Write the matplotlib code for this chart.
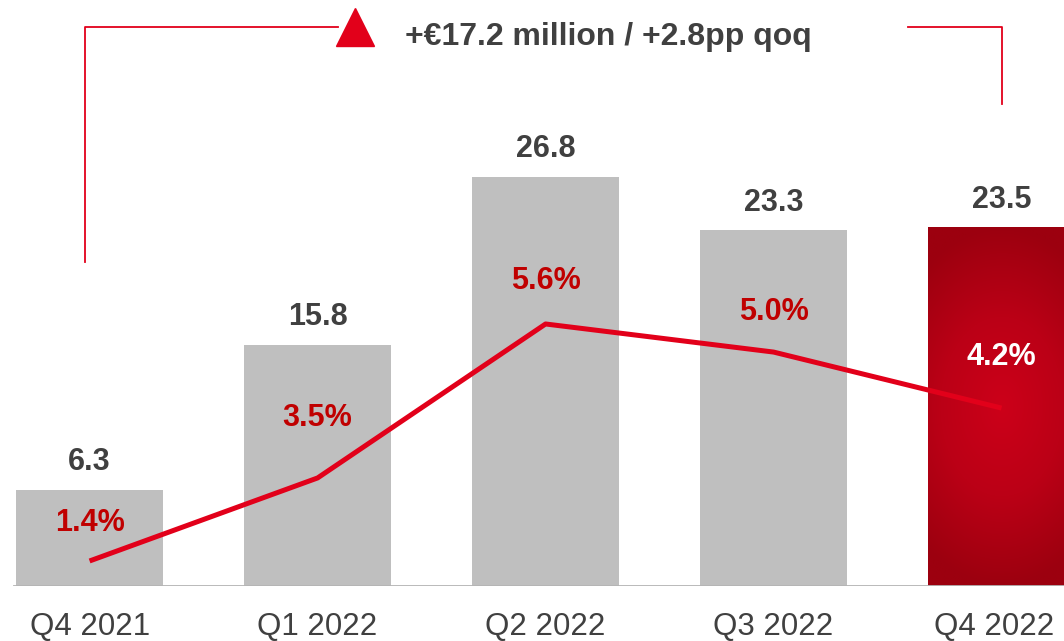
"""Quarterly result bars with margin line, recreated with matplotlib."""
import numpy as np
import matplotlib
matplotlib.use("Agg")
import matplotlib.pyplot as plt
from matplotlib.colors import LinearSegmentedColormap
from matplotlib.transforms import ScaledTranslation

# --- data -------------------------------------------------------------
quarters = ["Q4 2021", "Q1 2022", "Q2 2022", "Q3 2022", "Q4 2022"]
result_m = [6.3, 15.8, 26.8, 23.3, 23.5]          # EUR million
margin_pct = [1.4, 3.5, 5.6, 5.0, 4.2]            # labels of the line
margin_line = [1.64, 7.08, 17.17, 15.33, 11.66]   # line height as drawn (chart units)
headline = "+€17.2 million / +2.8pp qoq"

# --- style ------------------------------------------------------------
GREY_BAR = "#bfbfbf"
TEXT = "#404040"
RED_LINE = "#e2001a"
RED_LABEL = "#c00000"
FONT = "Liberation Sans"
plt.rcParams["font.family"] = [FONT, "DejaVu Sans"]

fig = plt.figure(figsize=(10.64, 6.41), dpi=100)
ax = fig.add_axes([0, 55 / 641, 1, 586 / 641])

x = np.arange(len(quarters))
width = 0.645
ax.set_xlim(-0.393, 4.274)
ax.set_ylim(0, 38.4)

colors = [GREY_BAR] * (len(quarters) - 1) + ["none"]
bars = ax.bar(x, result_m, width=width, color=colors, zorder=2)

# gradient fill for the latest quarter
last = bars[-1]
gx, gy = np.meshgrid(np.linspace(-1, 1, 200), np.linspace(-1, 1, 400))
dist = np.clip(np.sqrt((gx * 0.6) ** 2 + gy ** 2), 0, 1)
cmap = LinearSegmentedColormap.from_list("redgrad", ["#cc0019", "#bb0016", "#9c000f"])
img = ax.imshow(dist, cmap=cmap, aspect="auto", zorder=2,
                extent=[last.get_x(), last.get_x() + last.get_width(), 0, last.get_height()])
img.set_clip_path(last)

# baseline
ax.axhline(0, xmin=14 / 1064, xmax=1, color="#b4b4b4", lw=1.3, zorder=3)

# margin line
ax.plot(x, margin_line, color=RED_LINE, lw=3.6, solid_capstyle="butt", zorder=4)

# value labels above bars
for xi, v in zip(x, result_m):
    ax.annotate(f"{v:.1f}", (xi, v), xytext=(0, 20), textcoords="offset points",
                ha="center", va="center", fontsize=22, fontweight="bold", color=TEXT)

# margin labels above the line
label_offsets = [27, 43, 31, 29, 37]   # points above line
for i, (xi, p, lv) in enumerate(zip(x, margin_pct, margin_line)):
    col = "white" if i == len(x) - 1 else RED_LABEL
    ax.annotate(f"{p:.1f}%", (xi, lv), xytext=(0, label_offsets[i]),
                textcoords="offset points", ha="center", va="center",
                fontsize=22, fontweight="bold", color=col, zorder=5)

# category axis
ax.set_xticks(x, quarters)
ax.tick_params(axis="x", length=0, pad=19, labelsize=22.5, labelcolor=TEXT)
ax.set_yticks([])
for s in ax.spines.values():
    s.set_visible(False)
shift = ScaledTranslation(-7 / 100, 0, fig.dpi_scale_trans)
lab = ax.get_xticklabels()[-1]
lab.set_transform(lab.get_transform() + shift)

# headline bracket
top = 36.6
left_x = x[0] - 0.02
ax.plot([left_x, left_x, 1.09], [21.2, top, top], color=RED_LINE, lw=1.3,
        clip_on=False, zorder=3)
ax.plot([3.59, x[-1], x[-1]], [top, top, 31.6], color=RED_LINE, lw=1.3,
        clip_on=False, zorder=3)
ax.plot([1.164], [top], marker="^", markersize=27, color=RED_LINE,
        clip_on=False, zorder=4)
ax.text(2.274, 36.0, headline, ha="center", va="center", fontsize=23,
        fontweight="bold", color=TEXT)

fig.savefig("out.png", dpi=100)
